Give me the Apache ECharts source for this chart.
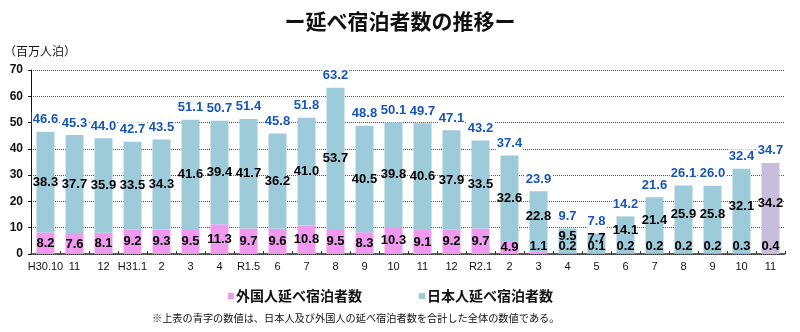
<!DOCTYPE html>
<html><head><meta charset="utf-8">
<script src="https://cdn.jsdelivr.net/npm/echarts@6/dist/echarts.min.js"></script>
<style>html,body{margin:0;padding:0;background:#fff}#c{width:800px;height:332px}</style>
</head><body><div id="c"></div>
<script>
const categories = ['H30.10','11','12','H31.1','2','3','4','R1.5','6','7','8','9','10','11','12','R2.1','2','3','4','5','6','7','8','9','10','11'];
const foreign = [8.2,7.6,8.1,9.2,9.3,9.5,11.3,9.7,9.6,10.8,9.5,8.3,10.3,9.1,9.2,9.7,4.9,1.1,0.2,0.1,0.2,0.2,0.2,0.2,0.3,0.4];
const japanese = [38.3,37.7,35.9,33.5,34.3,41.6,39.4,41.7,36.2,41.0,53.7,40.5,39.8,40.6,37.9,33.5,32.6,22.8,9.5,7.7,14.1,21.4,25.9,25.8,32.1,34.2];
const totals = [46.6,45.3,44.0,42.7,43.5,51.1,50.7,51.4,45.8,51.8,63.2,48.8,50.1,49.7,47.1,43.2,37.4,23.9,9.7,7.8,14.2,21.6,26.1,26.0,32.4,34.7];
const yTicks = [0,10,20,30,40,50,60,70];

const PINK = '#ef9aef', BLUE = '#9ecbda', LAV = '#c8bdda', TBLUE = '#1656b8';
const prelim = categories.length - 1;
const numFont = '"Liberation Sans", Arial, sans-serif';
const jpFont = '"Noto Sans CJK JP", sans-serif';

const fData = foreign.map((v, i) => {
  const o = { value: v, label: { position: v > 4 ? 'inside' : 'insideBottom', distance: 1 } };
  if (i === prelim) o.itemStyle = { color: LAV };
  return o;
});
const jData = japanese.map((v, i) => {
  const o = { value: v };
  if (foreign[i] < 2) o.label = { offset: [0, -5] };
  if (i === prelim) o.itemStyle = { color: LAV };
  return o;
});

const chart = echarts.init(document.getElementById('c'), null, { renderer: 'canvas' });
chart.setOption({
  animation: false,
  backgroundColor: '#fff',
  title: {
    text: 'ー延べ宿泊者数の推移ー', left: 'center', top: 6,
    textStyle: { fontFamily: jpFont, fontSize: 21, fontWeight: 'bold', color: '#111' }
  },
  graphic: [
    { type: 'text', left: 4, top: 45, style: { text: '（百万人泊）', font: '12px ' + jpFont, fill: '#111' } },
    { type: 'text', left: 152, top: 313, style: { text: '※上表の青字の数値は、日本人及び外国人の延べ宿泊者数を合計した全体の数値である。', font: '10.2px ' + jpFont, fill: '#111' } }
  ],
  legend: {
    data: ['外国人延べ宿泊者数', '日本人延べ宿泊者数'],
    left: 223, top: 284, itemWidth: 6, itemHeight: 6, itemGap: 57, icon: 'rect',
    textStyle: { fontFamily: jpFont, fontSize: 14, fontWeight: 'bold', color: '#111', padding: [0, 0, 0, -3] }
  },
  grid: { left: 31, right: 15, top: 70, bottom: 78 },
  xAxis: {
    type: 'category', data: categories,
    axisLine: { lineStyle: { color: '#333', width: 1.5 } },
    axisTick: { show: true, inside: true, length: 3, lineStyle: { color: '#333' } },
    axisLabel: { interval: 0, fontFamily: numFont, fontSize: 11, color: '#111', margin: 7 }
  },
  yAxis: {
    type: 'value', min: yTicks[0], max: yTicks[yTicks.length - 1], interval: 10,
    axisLine: { show: true, lineStyle: { color: '#111' } },
    axisTick: { show: true, length: 3, lineStyle: { color: '#111' } },
    axisLabel: { fontFamily: numFont, fontSize: 12, fontWeight: 'bold', color: '#111', margin: 8 },
    splitLine: { lineStyle: { color: '#555', type: [1, 1], width: 1 } }
  },
  series: [
    {
      name: '外国人延べ宿泊者数', type: 'bar', stack: 't', barWidth: 18,
      itemStyle: { color: PINK }, data: fData,
      label: { show: true, color: '#000', fontFamily: numFont, fontSize: 13, fontWeight: 'bold', formatter: p => p.value.toFixed(1) }
    },
    {
      name: '日本人延べ宿泊者数', type: 'bar', stack: 't', barWidth: 18,
      itemStyle: { color: BLUE }, data: jData,
      label: { show: true, position: 'inside', color: '#000', fontFamily: numFont, fontSize: 13, fontWeight: 'bold', formatter: p => p.value.toFixed(1) }
    },
    {
      name: '合計', type: 'scatter', data: totals, symbol: 'circle', symbolSize: 1, silent: true,
      itemStyle: { color: TBLUE, opacity: 0 }, z: 5,
      label: { show: true, position: 'top', distance: 5, color: TBLUE, opacity: 1, fontFamily: numFont, fontSize: 13, fontWeight: 'bold',
               backgroundColor: '#fff', padding: [1, 1, 0, 1], formatter: p => p.value.toFixed(1) }
    }
  ]
});
</script></body></html>
